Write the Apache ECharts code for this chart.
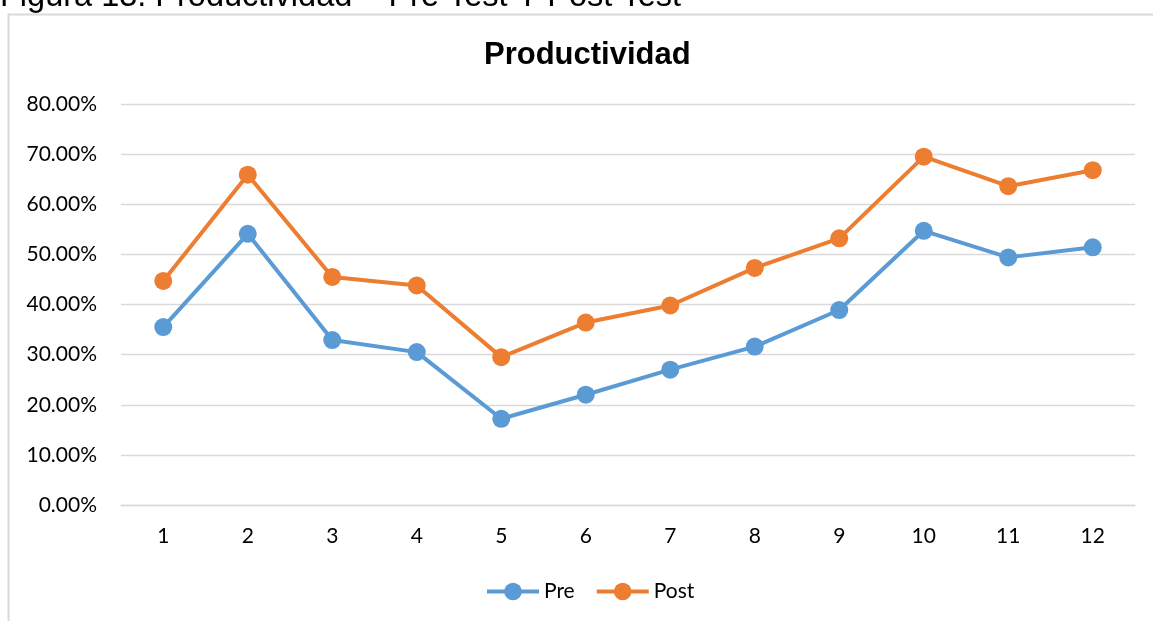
<!DOCTYPE html>
<html>
<head>
<meta charset="utf-8">
<script src="https://cdn.jsdelivr.net/npm/echarts@6/dist/echarts.min.js"></script>
<style>
html,body{margin:0;padding:0;background:#fff;}
#chart{width:1153px;height:621px;}
</style>
</head>
<body>
<div id="chart"></div>
<script>
const categories = ['1','2','3','4','5','6','7','8','9','10','11','12'];
const preValues  = [35.5, 54.1, 32.9, 30.5, 17.2, 22.0, 27.0, 31.6, 38.9, 54.7, 49.4, 51.4];
const postValues = [44.7, 65.9, 45.5, 43.8, 29.5, 36.4, 39.8, 47.3, 53.2, 69.5, 63.6, 66.8];
const seriesNames = ['Pre', 'Post'];
const titleText = 'Productividad';
const captionText = 'Figura 13. Productividad – Pre Test Y Post Test';

const chart = echarts.init(document.getElementById('chart'), null, {renderer: 'canvas'});
const labelFont = 'Lato, "Open Sans", sans-serif';
chart.setOption({
  backgroundColor: '#ffffff',
  animation: false,
  title: {
    text: titleText,
    left: 479,
    top: 35,
    textStyle: {fontFamily: '"Liberation Sans", Arial, sans-serif', fontWeight: 'bold', fontSize: 31, color: '#000'}
  },
  graphic: [
    {type: 'rect', shape: {x: 8.5, y: 14.5, width: 1200, height: 700}, style: {fill: 'none', stroke: '#d9d9d9', lineWidth: 2}, silent: true, z: -1},
    {type: 'text', left: 0, top: -19, style: {text: captionText, font: '32.5px "Liberation Sans", Arial, sans-serif', fill: '#000'}}
  ],
  legend: {
    data: seriesNames,
    left: 480,
    top: 576,
    itemWidth: 52,
    itemHeight: 22,
    itemGap: 20,
    lineStyle: {width: 4},
    textStyle: {fontFamily: labelFont, fontSize: 21, color: '#000'}
  },
  grid: {left: 121, right: 18, top: 104, bottom: 116, containLabel: false},
  xAxis: {
    type: 'category',
    data: categories,
    boundaryGap: true,
    axisLine: {show: true, lineStyle: {color: '#d9d9d9', width: 1.3}},
    axisTick: {show: false},
    axisLabel: {fontFamily: labelFont, fontSize: 21, color: '#000', margin: 21}
  },
  yAxis: {
    type: 'value',
    min: 0, max: 80, interval: 10,
    axisLine: {show: false},
    axisTick: {show: false},
    splitLine: {lineStyle: {color: '#d9d9d9', width: 1.3}},
    axisLabel: {fontFamily: labelFont, fontSize: 21, color: '#000', margin: 24,
      formatter: v => v.toFixed(2) + '%'}
  },
  series: [
    {name: seriesNames[0], type: 'line', data: preValues, symbol: 'circle', symbolSize: 18,
     itemStyle: {color: '#5B9BD5'}, lineStyle: {width: 4, color: '#5B9BD5'}},
    {name: seriesNames[1], type: 'line', data: postValues, symbol: 'circle', symbolSize: 18,
     itemStyle: {color: '#ED7D31'}, lineStyle: {width: 4, color: '#ED7D31'}}
  ]
});
</script>
</body>
</html>
